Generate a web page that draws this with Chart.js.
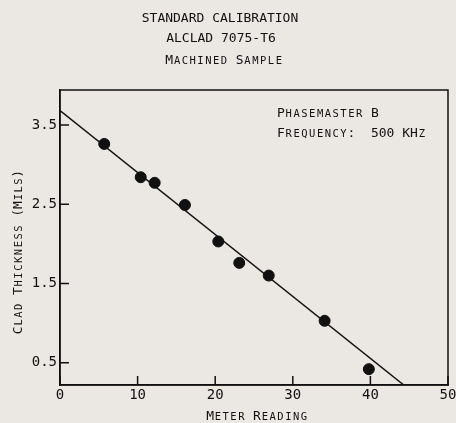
<!DOCTYPE html>
<html>
<head>
<meta charset="utf-8">
<script src="https://cdn.jsdelivr.net/npm/chart.js@4.4.1/dist/chart.umd.min.js"></script>
<style>
  html, body { margin: 0; padding: 0; background: #ebe8e4; }
  canvas { display: block; }
</style>
</head>
<body>
<canvas id="calChart" width="456" height="423"></canvas>
<script>
// values
const meterReading = [5.7, 10.4, 12.2, 16.1, 20.4, 23.1, 26.9, 34.1, 39.8];
const cladThickness = [3.26, 2.84, 2.77, 2.49, 2.03, 1.76, 1.60, 1.03, 0.42];
const fitX = [0, 44.3];
const fitY = [3.68, 0.22];
const xTicks = [0, 10, 20, 30, 40, 50];
const yTicks = [0.5, 1.5, 2.5, 3.5];

const titleLines = ['STANDARD CALIBRATION', 'ALCLAD 7075-T6', 'Machined Sample'];
const noteLines = ['Phasemaster B', 'Frequency:  500 KHz'];
const xTitle = 'Meter Reading';
const yTitle = 'Clad Thickness (Mils)';

const mono = '"DejaVu Sans Mono", "Liberation Mono", monospace';
const ink = '#111';
const paper = '#ebe8e4';

// typewriter style small caps: every character keeps the same cell width,
// lower case letters are drawn as smaller capitals on the same baseline
function drawCaps(ctx, text, x, baseline, align) {
    ctx.font = '13px ' + mono;
    const cell = ctx.measureText('M').width;
    const total = cell * text.length;
    let start = x;
    if (align === 'center') start = x - total / 2;
    ctx.textAlign = 'center';
    ctx.textBaseline = 'alphabetic';
    for (let i = 0; i < text.length; i++) {
        const ch = text[i];
        const small = ch !== ch.toUpperCase();
        ctx.font = (small ? '10.5px ' : '13px ') + mono;
        ctx.fillText(ch.toUpperCase(), start + cell * (i + 0.5), baseline);
    }
}

const textPlugin = {
    id: 'textPlugin',
    beforeDraw(chart) {
        const ctx = chart.ctx;
        ctx.save();
        ctx.fillStyle = paper;
        ctx.fillRect(0, 0, chart.width, chart.height);
        ctx.restore();
    },
    afterDraw(chart) {
        const ctx = chart.ctx;
        const area = chart.chartArea;
        const xs = chart.scales.x, ys = chart.scales.y;
        ctx.save();
        // frame
        ctx.strokeStyle = ink;
        ctx.lineWidth = 1.5;
        ctx.strokeRect(area.left, area.top, area.right - area.left, area.bottom - area.top);

        // inward tick marks
        ctx.beginPath();
        xTicks.forEach(v => {
            const px = xs.getPixelForValue(v);
            ctx.moveTo(px, area.bottom);
            ctx.lineTo(px, area.bottom - 9);
        });
        yTicks.forEach(v => {
            const py = ys.getPixelForValue(v);
            ctx.moveTo(area.left, py);
            ctx.lineTo(area.left + 9, py);
        });
        ctx.stroke();

        ctx.fillStyle = ink;
        drawCaps(ctx, titleLines[0], 220, 22, 'center');
        drawCaps(ctx, titleLines[1], 221, 42, 'center');
        drawCaps(ctx, titleLines[2], 224, 64, 'center');

        drawCaps(ctx, xTitle, 257, 420, 'center');
        ctx.save();
        ctx.translate(17, 252);
        ctx.rotate(-Math.PI / 2);
        drawCaps(ctx, yTitle, 0, 4.7, 'center');
        ctx.restore();

        drawCaps(ctx, noteLines[0], 277, 117, 'left');
        drawCaps(ctx, noteLines[1], 277, 137, 'left');
        ctx.restore();
    }
};

new Chart(document.getElementById('calChart'), {
    data: {
        datasets: [{
            type: 'line',
            data: fitX.map((x, i) => ({ x: x, y: fitY[i] })),
            borderColor: ink,
            borderWidth: 1.5,
            pointRadius: 0,
            fill: false
        }, {
            type: 'scatter',
            data: meterReading.map((x, i) => ({ x: x, y: cladThickness[i] })),
            backgroundColor: ink,
            borderColor: ink,
            pointRadius: 5.5,
            pointHoverRadius: 5.5
        }]
    },
    options: {
        responsive: false,
        animation: false,
        devicePixelRatio: 1,
        layout: { padding: { top: 90, right: 8, left: 0, bottom: 0 } },
        plugins: {
            legend: { display: false },
            tooltip: { enabled: false }
        },
        scales: {
            x: {
                type: 'linear',
                min: 0,
                max: 50,
                afterBuildTicks: scale => { scale.ticks = xTicks.map(v => ({ value: v })); },
                afterFit: scale => {
                    scale.height = 38;
                    scale.paddingLeft = 0;
                    scale.paddingRight = 0;
                },
                grid: { drawOnChartArea: false, drawTicks: false },
                border: { color: ink, width: 1.5 },
                ticks: { color: ink, padding: 2, maxRotation: 0, font: { family: mono, size: 14 } }
            },
            y: {
                type: 'linear',
                min: 0.22,
                max: 3.94,
                afterBuildTicks: scale => { scale.ticks = yTicks.map(v => ({ value: v })); },
                afterFit: scale => {
                    scale.width = 60;
                    scale.paddingTop = 0;
                    scale.paddingBottom = 0;
                },
                grid: { drawOnChartArea: false, drawTicks: false },
                border: { color: ink, width: 1.5 },
                ticks: {
                    color: ink,
                    padding: 3,
                    font: { family: mono, size: 14 },
                    callback: v => v.toFixed(1)
                }
            }
        }
    },
    plugins: [textPlugin]
});
</script>
</body>
</html>
